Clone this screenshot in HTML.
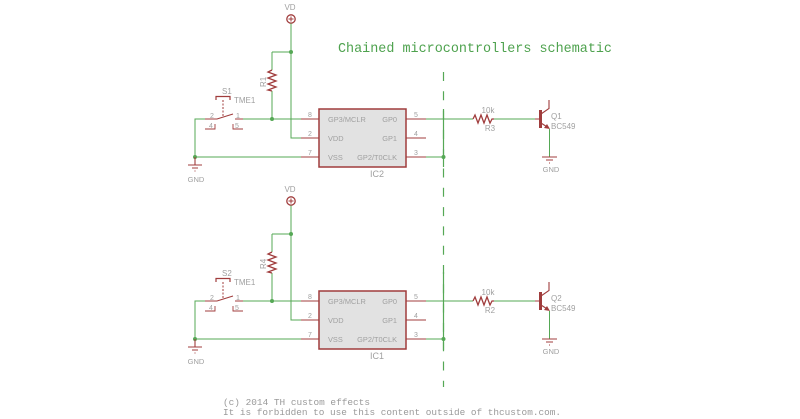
<!DOCTYPE html>
<html><head><meta charset="utf-8"><style>
html,body{margin:0;padding:0;background:#fff;}
svg{display:block;}
text{font-family:"Liberation Sans",sans-serif;fill:#a0a0a0;}
.mono{font-family:"Liberation Mono",monospace;}
</style></head><body>
<svg width="800" height="419" viewBox="0 0 800 419" xmlns="http://www.w3.org/2000/svg">
<defs>
<g id="circ">
  <!-- VD -->
  <text x="290" y="10" font-size="8" text-anchor="middle">VD</text>
  <circle cx="291" cy="19" r="4.2" fill="none" stroke="#a03c3c" stroke-width="1.3"/>
  <path d="M288.5 19h5M291 16.5v5" stroke="#a03c3c" stroke-width="1"/>
  <!-- VDD wire -->
  <path d="M291 23.5V138H301" fill="none" stroke="#55a855" stroke-width="1"/>
  <path d="M272 52H291" stroke="#55a855" stroke-width="1"/>
  <circle cx="291" cy="52" r="2" fill="#55a855"/>
  <!-- pullup resistor -->
  <path d="M272 52V70M272 91V119" stroke="#55a855" stroke-width="1" fill="none"/>
  <path d="M272 70l-4 2l8 3l-8 3l8 3l-8 3l8 3l-8 3l4 1" fill="none" stroke="#a03c3c" stroke-width="1.3"/>
  <circle cx="272" cy="119" r="2" fill="#55a855"/>
  <!-- reset line -->
  <path d="M195 157V119H205" fill="none" stroke="#55a855" stroke-width="1"/>
  <path d="M243 119H301" stroke="#55a855" stroke-width="1"/>
  <path d="M205 119H217L233 114M235 119H243" fill="none" stroke="#a03c3c" stroke-width="1.1"/>
  <path d="M205 129H215V124M233 124V129H243" fill="none" stroke="#a03c3c" stroke-width="0.9"/>
  <text x="210" y="118" font-size="7">2</text>
  <text x="236" y="118" font-size="7">1</text>
  <text x="209" y="128" font-size="7">4</text>
  <text x="235" y="128" font-size="7">5</text>
  <path d="M216 100V96.5H230V100" fill="none" stroke="#a03c3c" stroke-width="1.2"/>
  <path d="M223 100V117" stroke="#a03c3c" stroke-width="1" stroke-dasharray="2 1.5"/>
  <text x="234" y="103" font-size="8">TME1</text>
  <!-- GND line -->
  <path d="M195 157H301" stroke="#55a855" stroke-width="1"/>
  <circle cx="195" cy="157" r="2" fill="#55a855"/>
  <path d="M195 157V165M188 165H202M192 168H198M194.5 171H195.5" stroke="#a03c3c" stroke-width="1.1"/>
  <text x="196" y="182" font-size="7.5" text-anchor="middle">GND</text>
  <!-- IC -->
  <rect x="319" y="109" width="87" height="58" fill="#e2e2e2" stroke="#a03c3c" stroke-width="1.5"/>
  <path d="M301 119H319M301 138H319M301 157H319M406 119H426M406 138H426M406 157H426" stroke="#a03c3c" stroke-width="1"/>
  <g font-size="7">
    <text x="308" y="117">8</text><text x="308" y="136">2</text><text x="308" y="155">7</text>
    <text x="414" y="117">5</text><text x="414" y="136">4</text><text x="414" y="155">3</text>
  </g>
  <g font-size="7.4">
    <text x="328" y="122">GP3/MCLR</text>
    <text x="328" y="141">VDD</text>
    <text x="328" y="160">VSS</text>
    <text x="397" y="122" text-anchor="end">GP0</text>
    <text x="397" y="141" text-anchor="end">GP1</text>
    <text x="397" y="160" text-anchor="end">GP2/T0CLK</text>
  </g>
  <!-- outputs -->
  <path d="M426 119H473M493 119H535M426 157H443" stroke="#55a855" stroke-width="1"/>
  <circle cx="443.5" cy="157" r="2" fill="#55a855"/>
  <path d="M473 119l2-4l3 8l3-8l3 8l3-8l3 8l2-4h2" fill="none" stroke="#a03c3c" stroke-width="1.3"/>
  <text x="488" y="113" font-size="8" text-anchor="middle">10k</text>
  <!-- transistor -->
  <path d="M535 119H540" stroke="#a03c3c" stroke-width="1"/>
  <path d="M540.5 110V128" stroke="#a03c3c" stroke-width="3"/>
  <path d="M541 114L549 108.5V100" fill="none" stroke="#a03c3c" stroke-width="1.1"/>
  <path d="M541 123L548 127.5" stroke="#a03c3c" stroke-width="1.1"/>
  <path d="M550 129L544 128L547 124Z" fill="#a03c3c"/>
  <path d="M549.5 129V157" stroke="#55a855" stroke-width="1"/>
  <path d="M542 157H557M546 160H553M549 163H550" stroke="#a03c3c" stroke-width="1.1"/>
  <text x="551" y="172" font-size="7.5" text-anchor="middle">GND</text>
  <text x="551" y="129" font-size="8">BC549</text>
</g>
</defs>

<!-- title -->
<text class="mono" x="338" y="52" font-size="14" fill="#4ea24e" style="fill:#4ea24e" textLength="274" lengthAdjust="spacingAndGlyphs">Chained microcontrollers schematic</text>

<!-- dashed separator -->
<path d="M443.5 72V387" stroke="#55a855" stroke-width="1.2" stroke-dasharray="9 10.3"/>
<path d="M443.5 109V167M443.5 272V350" stroke="#55a855" stroke-width="1.2"/>

<!-- top circuit -->
<use href="#circ"/>
<text x="222" y="94" font-size="8">S1</text>
<text transform="translate(266,87) rotate(-90)" font-size="8">R1</text>
<text x="377" y="177" font-size="9" text-anchor="middle">IC2</text>
<text x="490" y="131" font-size="8" text-anchor="middle">R3</text>
<text x="551" y="119" font-size="8">Q1</text>

<!-- bottom circuit -->
<g transform="translate(0,182)">
<use href="#circ"/>
<text x="222" y="94" font-size="8">S2</text>
<text transform="translate(266,87) rotate(-90)" font-size="8">R4</text>
<text x="377" y="177" font-size="9" text-anchor="middle">IC1</text>
<text x="490" y="131" font-size="8" text-anchor="middle">R2</text>
<text x="551" y="119" font-size="8">Q2</text>
</g>

<!-- footer -->
<text class="mono" x="223" y="405" font-size="9.4" style="fill:#9a9a9a" textLength="147" lengthAdjust="spacingAndGlyphs">(c) 2014 TH custom effects</text>
<text class="mono" x="223" y="415" font-size="9.4" style="fill:#9a9a9a" textLength="338" lengthAdjust="spacingAndGlyphs">It is forbidden to use this content outside of thcustom.com.</text>
</svg>
</body></html>
